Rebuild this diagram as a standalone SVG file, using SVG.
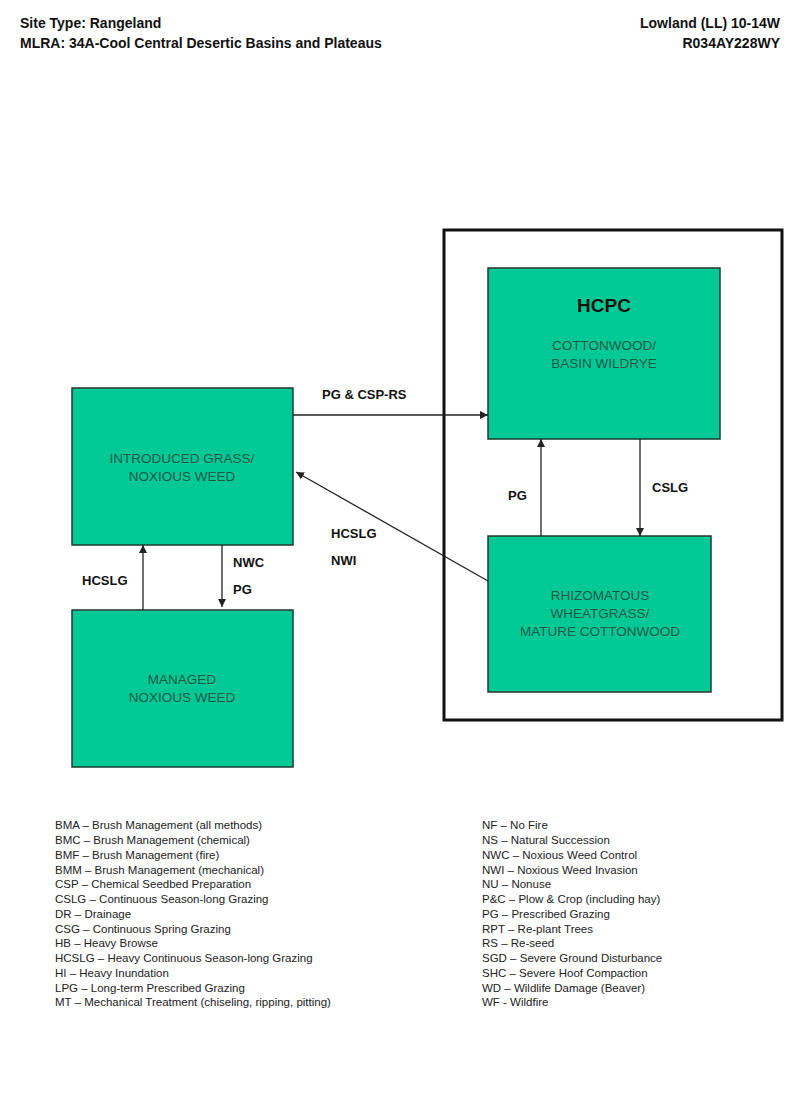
<svg xmlns="http://www.w3.org/2000/svg" width="800" height="1108" viewBox="0 0 800 1108">
<style>
.hd{font-family:"Liberation Sans",Arial,sans-serif;font-weight:bold;font-size:14px;fill:#111}
.box{fill:#00C995;stroke:#1d3a30;stroke-width:1.5}
.bt{font-family:"Liberation Sans",Arial,sans-serif;font-size:13.5px;fill:#1c5a48;text-anchor:middle}
.lb{font-family:"Liberation Sans",Arial,sans-serif;font-weight:bold;font-size:13px;fill:#111}
.lg{font-family:"Liberation Sans",Arial,sans-serif;font-size:11.5px;fill:#222}
.c{stroke:#222;stroke-width:1.3;fill:none;marker-end:url(#ah)}
</style>
<defs><marker id="ah" viewBox="0 0 10 10" refX="10" refY="5" markerWidth="8" markerHeight="8" markerUnits="userSpaceOnUse" orient="auto"><path d="M0,0L10,5L0,10z" fill="#222"/></marker></defs>
<rect width="800" height="1108" fill="#fff"/>
<text class="hd" x="20" y="28">Site Type:  Rangeland</text>
<text class="hd" x="20" y="48">MLRA: 34A-Cool Central Desertic Basins and Plateaus</text>
<text class="hd" x="780" y="28" text-anchor="end">Lowland (LL) 10-14W</text>
<text class="hd" x="780" y="48" text-anchor="end">R034AY228WY</text>
<rect id="frame" x="444" y="230" width="338" height="490" fill="none" stroke="#111" stroke-width="3"/>
<g id="introduced"><rect class="box" x="72" y="388" width="221" height="157"/><text class="bt" x="182" y="463">INTRODUCED GRASS/</text><text class="bt" x="182" y="481">NOXIOUS WEED</text></g>
<g id="managed"><rect class="box" x="72" y="610" width="221" height="157"/><text class="bt" x="182" y="684">MANAGED</text><text class="bt" x="182" y="702">NOXIOUS WEED</text></g>
<g id="hcpc"><rect class="box" x="488" y="268" width="232" height="171"/><text x="604" y="312" text-anchor="middle" font-family="Liberation Sans,Arial,sans-serif" font-weight="bold" font-size="19" fill="#111">HCPC</text><text class="bt" x="604" y="350">COTTONWOOD/</text><text class="bt" x="604" y="368">BASIN WILDRYE</text></g>
<g id="rhizo"><rect class="box" x="488" y="536" width="223" height="156"/><text class="bt" x="600" y="600">RHIZOMATOUS</text><text class="bt" x="600" y="618">WHEATGRASS/</text><text class="bt" x="600" y="636">MATURE COTTONWOOD</text></g>
<g id="connectors">
<path class="c" d="M293,415H488"/>
<path class="c" d="M143,610V545"/>
<path class="c" d="M222,545V607"/>
<path class="c" d="M541,536V439"/>
<path class="c" d="M640,439V536"/>
<path class="c" d="M488,581L296,472"/>
</g>
<text class="lb" x="322" y="399">PG &amp; CSP-RS</text>
<text class="lb" x="82" y="585">HCSLG</text>
<text class="lb" x="233" y="567">NWC</text>
<text class="lb" x="233" y="594">PG</text>
<text class="lb" x="331" y="538">HCSLG</text>
<text class="lb" x="331" y="565">NWI</text>
<text class="lb" x="508" y="500">PG</text>
<text class="lb" x="652" y="492">CSLG</text>
<g class="lg">
<text x="55" y="829">BMA – Brush Management (all methods)</text>
<text x="55" y="844">BMC – Brush Management (chemical)</text>
<text x="55" y="859">BMF – Brush Management (fire)</text>
<text x="55" y="874">BMM – Brush Management (mechanical)</text>
<text x="55" y="888">CSP – Chemical Seedbed Preparation</text>
<text x="55" y="903">CSLG – Continuous Season-long Grazing</text>
<text x="55" y="918">DR – Drainage</text>
<text x="55" y="933">CSG – Continuous Spring Grazing</text>
<text x="55" y="947">HB – Heavy Browse</text>
<text x="55" y="962">HCSLG – Heavy Continuous Season-long Grazing</text>
<text x="55" y="977">HI – Heavy Inundation</text>
<text x="55" y="992">LPG – Long-term Prescribed Grazing</text>
<text x="55" y="1006">MT – Mechanical Treatment (chiseling, ripping, pitting)</text>
<text x="482" y="829">NF – No Fire</text>
<text x="482" y="844">NS – Natural Succession</text>
<text x="482" y="859">NWC – Noxious Weed Control</text>
<text x="482" y="874">NWI – Noxious Weed Invasion</text>
<text x="482" y="888">NU – Nonuse</text>
<text x="482" y="903">P&amp;C – Plow &amp; Crop (including hay)</text>
<text x="482" y="918">PG – Prescribed Grazing</text>
<text x="482" y="933">RPT – Re-plant Trees</text>
<text x="482" y="947">RS – Re-seed</text>
<text x="482" y="962">SGD – Severe Ground Disturbance</text>
<text x="482" y="977">SHC – Severe Hoof Compaction</text>
<text x="482" y="992">WD – Wildlife Damage (Beaver)</text>
<text x="482" y="1006">WF - Wildfire</text>
</g>
</svg>
